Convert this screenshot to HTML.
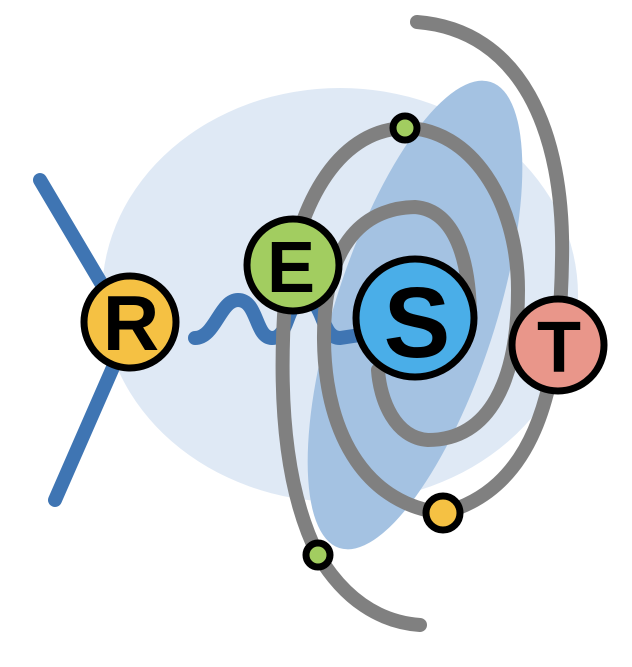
<!DOCTYPE html><html><head><style>html,body{margin:0;padding:0;background:#fff}</style></head><body>
<svg width="632" height="662" viewBox="0 0 632 662" xmlns="http://www.w3.org/2000/svg">
<ellipse cx="340" cy="295" rx="238" ry="207" fill="#dfe9f5"/>
<ellipse cx="415" cy="315" rx="80" ry="245" transform="rotate(18 415 315)" fill="#a4c2e2"/>
<g stroke="#3f75b3" stroke-width="14" fill="none" stroke-linecap="round">
<line x1="40" y1="180" x2="120" y2="315"/>
<line x1="55" y1="500" x2="125" y2="340"/>
<path d="M195 338 C215 338 220 300 238 300 C258 300 255 338 272 338 C290 338 285 300 305 300 C325 300 320 338 340 338 L360 335"/>
</g>
<g stroke="#808080" stroke-width="14" fill="none" stroke-linecap="round">
<path d="M417 22 C520 30 565 130 562 260 C560 400 530 490 443 513 C370 505 325 440 324 340 C323 250 360 208 415 207 C455 210 470 260 470 320"/>
<path d="M405 128 C470 128 518 200 518 290 C518 380 490 440 428 440 C395 438 380 400 378 370"/>
<path d="M405 128 C335 130 295 210 285 300 C278 400 285 490 318 555 C345 600 380 622 420 625"/>
</g>
<g stroke="#000" stroke-width="7">
<circle cx="130" cy="322" r="46" fill="#f5c143"/>
<circle cx="293" cy="265" r="46" fill="#a2cd60"/>
<circle cx="415" cy="318" r="59" fill="#4aaee8"/>
<circle cx="558" cy="345" r="46" fill="#e9968a"/>
<circle cx="405" cy="128" r="12" fill="#a2cd60"/>
<circle cx="443" cy="513" r="17" fill="#f5c143"/>
<circle cx="318" cy="555" r="12" fill="#a2cd60"/>
</g>
<g font-family="Liberation Sans, sans-serif" font-weight="bold" text-anchor="middle" fill="#000">
<text x="131" y="350" font-size="78">R</text>
<text x="291" y="292" font-size="72">E</text>
<text x="417" y="357" font-size="100">S</text>
<text x="559" y="372" font-size="72">T</text>
</g>
</svg>
</body></html>
